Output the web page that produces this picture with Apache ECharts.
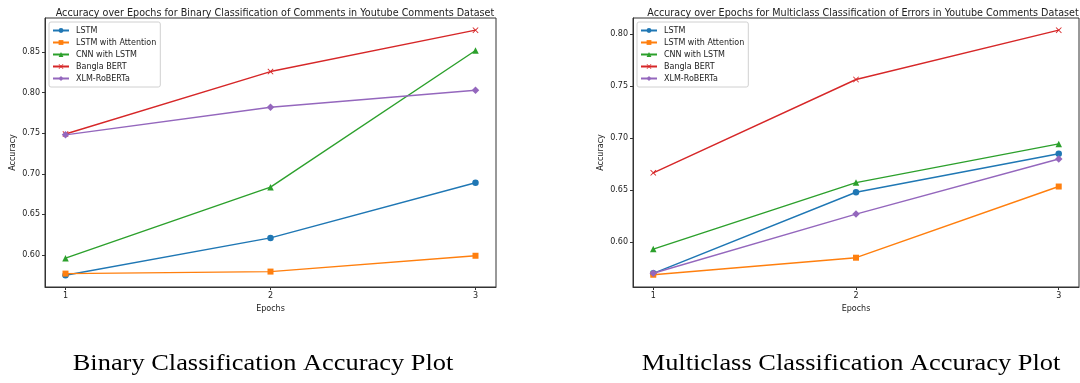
<!DOCTYPE html>
<html>
<head>
<meta charset="utf-8">
<script src="https://cdn.jsdelivr.net/npm/echarts@6/dist/echarts.min.js"></script>
<style>html,body{margin:0;padding:0;background:#fff}#c{width:1080px;height:383px}</style>
</head>
<body>
<div id="c"></div>
<script>
const epochs = [1, 2, 3];
const seriesNames = ['LSTM', 'LSTM with Attention', 'CNN with LSTM', 'Bangla BERT', 'XLM-RoBERTa'];
const yTicks = [0.60, 0.65, 0.70, 0.75, 0.80, 0.85];
const yTicksMulti = [0.60, 0.65, 0.70, 0.75, 0.80];

// Binary classification accuracies
const binLSTM = [0.575, 0.621, 0.689];
const binAttn = [0.577, 0.5795, 0.599];
const binCNN = [0.596, 0.6835, 0.852];
const binBERT = [0.749, 0.826, 0.877];
const binXLM = [0.748, 0.782, 0.803];

// Multiclass classification accuracies
const mulLSTM = [0.570, 0.648, 0.685];
const mulAttn = [0.5686, 0.585, 0.6535];
const mulCNN = [0.5933, 0.6573, 0.6945];
const mulBERT = [0.6667, 0.7565, 0.804];
const mulXLM = [0.570, 0.627, 0.680];

const colors = ['#1f77b4', '#ff7f0e', '#2ca02c', '#d62728', '#9467bd'];
const xPath = 'path://M0,1L1,0L5,4L9,0L10,1L6,5L10,9L9,10L5,6L1,10L0,9L4,5Z';
const symbols = ['circle', 'rect', 'triangle', xPath, 'diamond'];
const symbolSizes = [6.5, 6, 6.5, 6, 7.5];

const binData = [binLSTM, binAttn, binCNN, binBERT, binXLM];
const mulData = [mulLSTM, mulAttn, mulCNN, mulBERT, mulXLM];

function makeSeries(data, idx) {
  return data.map((vals, i) => ({
    name: seriesNames[i],
    type: 'line',
    xAxisIndex: idx,
    yAxisIndex: idx,
    data: epochs.map((e, k) => [e, vals[k]]),
    symbol: symbols[i],
    symbolSize: symbolSizes[i],
    showAllSymbol: true,
    lineStyle: { color: colors[i], width: 1.4 },
    itemStyle: { color: colors[i] },
    emphasis: { disabled: true },
    animation: false,
    z: 3 + i
  }));
}

const fontSans = 'DejaVu Sans';
const FS = 8;
const axisCommon = {
  axisLine: { show: true, lineStyle: { color: '#333', width: 1 } },
  splitLine: { show: false }
};

function xAxis(gridIndex) {
  return Object.assign({}, axisCommon, {
    type: 'value', gridIndex, min: 0.9, max: 3.1,
    name: 'Epochs', nameLocation: 'middle', nameGap: 15,
    nameTextStyle: { fontSize: FS, fontFamily: fontSans, color: '#222' },
    axisTick: { show: true, length: 3, lineStyle: { color: '#333' }, customValues: epochs },
    axisLabel: { color: '#222', fontSize: FS, fontFamily: fontSans, margin: 5, customValues: epochs, formatter: v => String(v) }
  });
}
function yAxis(gridIndex, min, max, ticks) {
  return Object.assign({}, axisCommon, {
    type: 'value', gridIndex, min, max,
    name: 'Accuracy', nameLocation: 'middle', nameGap: 28,
    nameTextStyle: { fontSize: FS, fontFamily: fontSans, color: '#222' },
    axisTick: { show: true, length: 3, lineStyle: { color: '#333' }, customValues: ticks },
    axisLabel: { color: '#222', fontSize: FS, fontFamily: fontSans, margin: 5, customValues: ticks, formatter: v => v.toFixed(2) }
  });
}

function legend(left) {
  return {
    orient: 'vertical', left, top: 22,
    data: seriesNames,
    itemWidth: 16, itemHeight: 6, itemGap: 3,
    padding: [4, 4, 4, 3],
    borderColor: '#d0d0d0', borderWidth: 1, borderRadius: 2,
    backgroundColor: 'rgba(255,255,255,0.8)',
    textStyle: { fontSize: FS, fontFamily: fontSans, color: '#222', padding: [0, 0, 0, 2], lineHeight: 9 },
    selectedMode: false
  };
}

const chart = echarts.init(document.getElementById('c'), null, { renderer: 'canvas' });
chart.setOption({
  animation: false,
  backgroundColor: '#fff',
  title: [
    { text: 'Accuracy over Epochs for Binary Classification of Comments in Youtube Comments Dataset',
      left: 270, top: 3, textAlign: 'center',
      textStyle: { fontSize: 9.6, fontWeight: 'normal', fontFamily: fontSans, color: '#222' } },
    { text: 'Accuracy over Epochs for Multiclass Classification of Errors in Youtube Comments Dataset',
      left: 858, top: 3, textAlign: 'center',
      textStyle: { fontSize: 9.6, fontWeight: 'normal', fontFamily: fontSans, color: '#222' } }
  ],
  legend: [legend(49), legend(637)],
  grid: [
    { left: 45, right: 584, top: 18, bottom: 96, show: true, borderColor: '#333', borderWidth: 1, containLabel: false },
    { left: 633, right: 1, top: 18, bottom: 96, show: true, borderColor: '#333', borderWidth: 1, containLabel: false }
  ],
  xAxis: [xAxis(0), xAxis(1)],
  yAxis: [yAxis(0, 0.5605, 0.892, yTicks), yAxis(1, 0.5568, 0.8157, yTicksMulti)],
  series: makeSeries(binData, 0).concat(makeSeries(mulData, 1)),
  graphic: [
    { type: 'text', x: 263, y: 352, scaleX: 1.1,
      style: { text: 'Binary Classification Accuracy Plot', font: '24px "Liberation Serif"', fill: '#000', align: 'center' } },
    { type: 'text', x: 851, y: 352, scaleX: 1.1,
      style: { text: 'Multiclass Classification Accuracy Plot', font: '24px "Liberation Serif"', fill: '#000', align: 'center' } }
  ]
});
</script>
</body>
</html>
